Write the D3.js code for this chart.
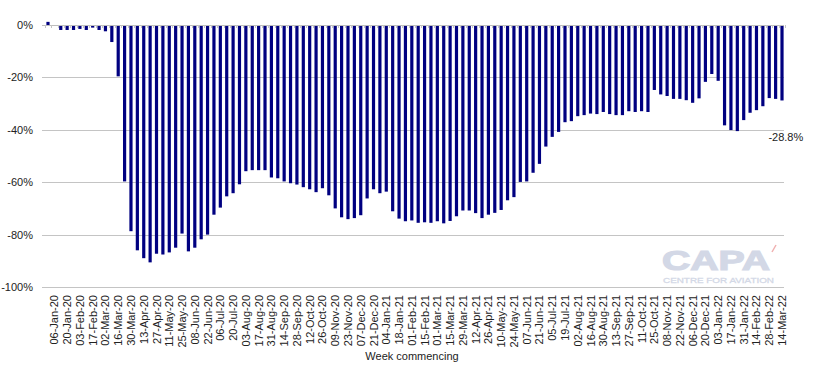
<!DOCTYPE html>
<html lang="en">
<head>
<meta charset="UTF-8">
<title>Weekly capacity change</title>
<style>
  body { margin: 0; background: #fff; }
  svg text { font-family: "Liberation Sans", Arial, sans-serif; }
</style>
</head>
<body>
<script src="https://cdn.jsdelivr.net/npm/d3@7"></script>
<div id="chart"></div>
<script>
// weekly % change, first week is 30-Dec-19 (unlabelled), then 06-Jan-20 ... 14-Mar-22
const values = [
  1.2, 0, -1.9, -1.9, -1.9, -1.5, -1.9, -1.0, -1.9, -2.4,
  -6.5, -19.6, -59.7, -78.7, -86, -89, -90.6, -87.3, -87.6, -86.8,
  -85, -79.6, -86.4, -85, -81.8, -80, -72.4, -69.7, -65.4, -64.2,
  -60.8, -55.8, -55.4, -55.4, -55.4, -58.2, -58.5, -59.7, -60.4, -60.9,
  -61.9, -62.7, -63.8, -62.3, -65, -70, -73.4, -74.1, -73.7, -72.6,
  -66.2, -62.7, -64.2, -63.6, -71.1, -73.9, -74.9, -74.6, -75.5, -75.3,
  -75.5, -74.9, -75.7, -74.8, -73, -70.8, -70.8, -71.8, -73.7, -72.4,
  -71.7, -70.6, -66.9, -65.7, -59.9, -59.7, -56.4, -53, -46.4, -42.7,
  -40.8, -37.1, -36.7, -34.8, -34.4, -33.8, -34, -33.2, -34, -34.4,
  -34.4, -32.9, -33.2, -32.9, -33.2, -24.8, -26.5, -27.1, -28.2, -28.2,
  -28.7, -29.7, -28, -21.7, -18.7, -21.3, -38.3, -40.1, -40.5, -36.3,
  -33.5, -32.5, -31, -27.9, -28.2, -28.8
];

// every second week is labelled, starting at the second bar
const tickLabels = [
  "06-Jan-20", "20-Jan-20", "03-Feb-20", "17-Feb-20", "02-Mar-20", "16-Mar-20",
  "30-Mar-20", "13-Apr-20", "27-Apr-20", "11-May-20", "25-May-20", "08-Jun-20",
  "22-Jun-20", "06-Jul-20", "20-Jul-20", "03-Aug-20", "17-Aug-20", "31-Aug-20",
  "14-Sep-20", "28-Sep-20", "12-Oct-20", "26-Oct-20", "09-Nov-20", "23-Nov-20",
  "07-Dec-20", "21-Dec-20", "04-Jan-21", "18-Jan-21", "01-Feb-21", "15-Feb-21",
  "01-Mar-21", "15-Mar-21", "29-Mar-21", "12-Apr-21", "26-Apr-21", "10-May-21",
  "24-May-21", "07-Jun-21", "21-Jun-21", "05-Jul-21", "19-Jul-21", "02-Aug-21",
  "16-Aug-21", "30-Aug-21", "13-Sep-21", "27-Sep-21", "11-Oct-21", "25-Oct-21",
  "08-Nov-21", "22-Nov-21", "06-Dec-21", "20-Dec-21", "03-Jan-22", "17-Jan-22",
  "31-Jan-22", "14-Feb-22", "28-Feb-22", "14-Mar-22"
];

const yTicks = [0, -20, -40, -60, -80, -100];
const lastLabel = "-28.8%";

const W = 822, H = 366;
const plotLeft = 42, plotRight = 784;

const svg = d3.select("#chart").append("svg")
  .attr("width", W)
  .attr("height", H);

const x = d3.scaleBand()
  .domain(d3.range(values.length))
  .range([plotLeft, 788])
  .paddingInner(0.5)
  .paddingOuter(0.69);

const y = d3.scaleLinear()
  .domain([-100, 0])
  .range([287, 25]);

// gridlines
svg.append("g")
  .selectAll("line")
  .data(yTicks.filter(d => d !== 0))
  .join("line")
    .attr("x1", plotLeft)
    .attr("x2", plotRight)
    .attr("y1", d => Math.round(y(d)) + 0.5)
    .attr("y2", d => Math.round(y(d)) + 0.5)
    .style("stroke", "#c4c4c4")
    .style("stroke-width", 1);

// y labels
svg.append("g")
  .selectAll("text")
  .data(yTicks)
  .join("text")
    .attr("x", 33)
    .attr("y", d => y(d) + 4)
    .attr("text-anchor", "end")
    .style("font-size", "11px")
    .style("fill", "#222")
    .text(d => d + "%");

// CAPA watermark
const logo = svg.append("g");
logo.append("text")
  .attr("x", 662)
  .attr("y", 270)
  .attr("textLength", 108)
  .attr("lengthAdjust", "spacingAndGlyphs")
  .style("font-size", "27px")
  .style("font-weight", "bold")
  .style("fill", "#d3d8e6")
  .style("stroke", "#d3d8e6")
  .style("stroke-width", 1.2)
  .text("CAPA");
logo.append("text")
  .attr("x", 663)
  .attr("y", 283)
  .attr("textLength", 111)
  .attr("lengthAdjust", "spacingAndGlyphs")
  .style("font-size", "8px")
  .style("fill", "#d3d8e6")
  .style("stroke", "#d3d8e6")
  .style("stroke-width", 0.3)
  .text("CENTRE FOR AVIATION");
logo.append("line")
  .attr("x1", 772).attr("y1", 252)
  .attr("x2", 776).attr("y2", 245)
  .style("stroke", "#f0b0b0")
  .style("stroke-width", 1.5);

// bars
svg.append("g")
  .selectAll("rect")
  .data(values)
  .join("rect")
    .attr("x", (d, i) => x(i))
    .attr("width", x.bandwidth())
    .attr("y", d => y(Math.max(0, d)))
    .attr("height", d => Math.abs(y(d) - y(0)))
    .style("fill", "#000080");

// zero axis line with small category ticks
svg.append("line")
  .attr("x1", plotLeft)
  .attr("x2", plotRight)
  .attr("y1", Math.round(y(0)) + 0.5)
  .attr("y2", Math.round(y(0)) + 0.5)
  .style("stroke", "#bdbdbd");
svg.append("g")
  .selectAll("line")
  .data(d3.range(values.length + 1))
  .join("line")
    .attr("x1", i => Math.round(x(0) - x.step() * 0.25 + i * x.step()) + 0.5)
    .attr("x2", i => Math.round(x(0) - x.step() * 0.25 + i * x.step()) + 0.5)
    .attr("y1", Math.round(y(0)))
    .attr("y2", Math.round(y(0)) + 3)
    .style("stroke", "#c4c4c4");

// x tick labels
svg.append("g")
  .selectAll("text")
  .data(tickLabels)
  .join("text")
    .attr("transform", (d, k) => {
      const cx = x(2 * k + 1) + x.bandwidth() / 2 + 4;
      return `translate(${cx},295) rotate(-90)`;
    })
    .attr("text-anchor", "end")
    .style("font-size", "11px")
    .style("fill", "#222")
    .text(d => d);

// last value label
svg.append("text")
  .attr("x", x(values.length - 1) - 12)
  .attr("y", y(values[values.length - 1]) + 41)
  .style("font-size", "11px")
  .style("fill", "#222")
  .text(lastLabel);

// axis title
svg.append("text")
  .attr("x", 412)
  .attr("y", 360)
  .attr("text-anchor", "middle")
  .style("font-size", "11px")
  .style("fill", "#222")
  .text("Week commencing");
</script>
</body>
</html>
